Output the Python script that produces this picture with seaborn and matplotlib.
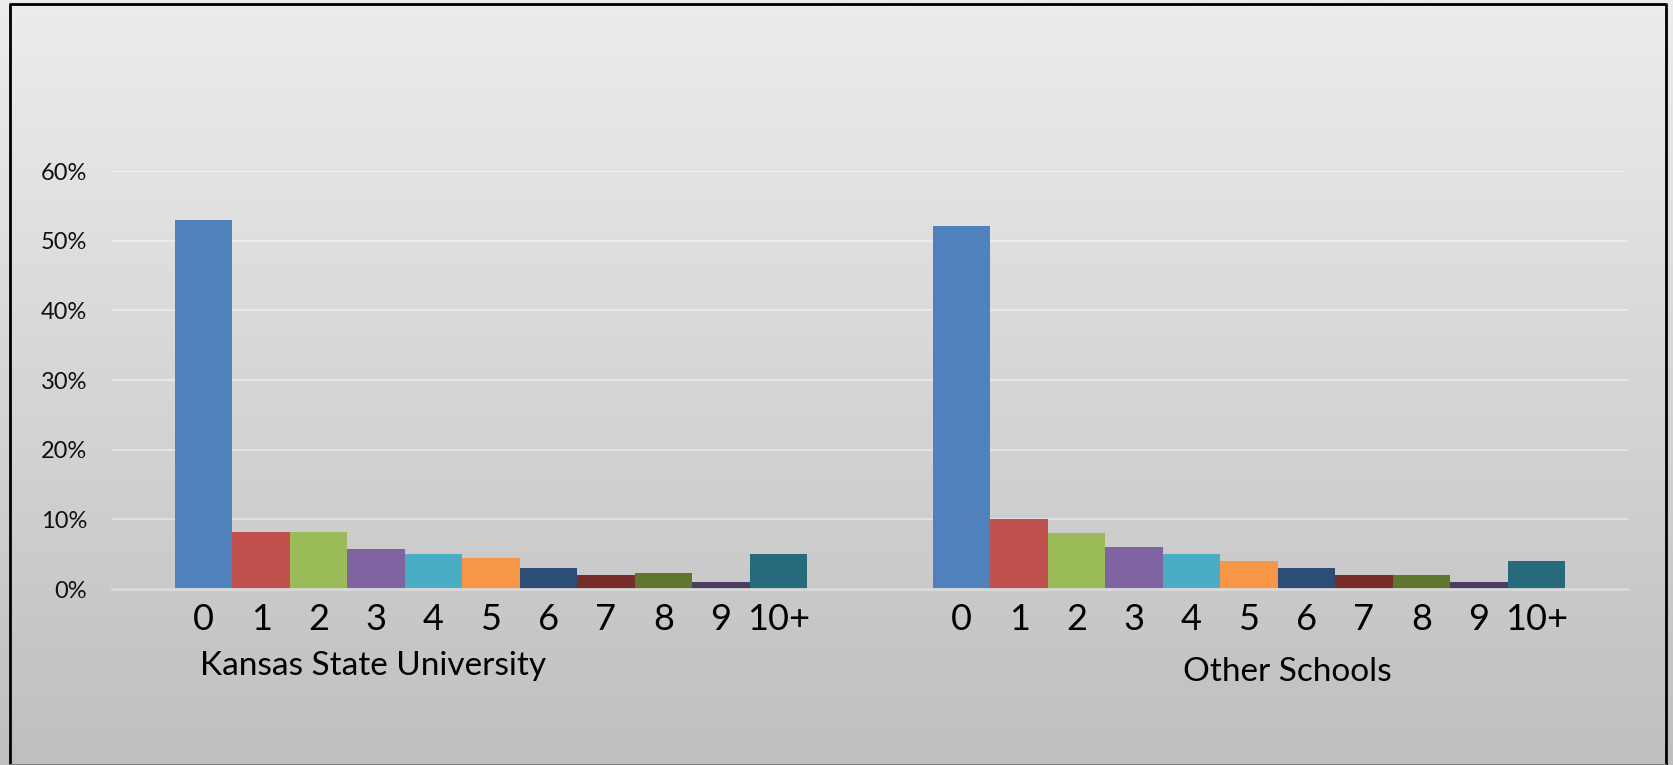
import pandas as pd
import seaborn as sns
import matplotlib.pyplot as plt
import numpy as np
from matplotlib.colors import LinearSegmentedColormap
from matplotlib.ticker import PercentFormatter
import matplotlib.transforms as mtransforms

# Data (share of respondents by number)
schools = ['Kansas State University', 'Other Schools']
counts = ['0', '1', '2', '3', '4', '5', '6', '7', '8', '9', '10+']
ksu = [0.530, 0.082, 0.082, 0.058, 0.050, 0.044, 0.030, 0.020, 0.023, 0.010, 0.050]
other = [0.521, 0.100, 0.080, 0.060, 0.050, 0.040, 0.030, 0.020, 0.020, 0.010, 0.040]

# Excel 2010 style palette
colors = ['#4F81BD', '#C0504D', '#9BBB59', '#8064A2', '#4BACC6', '#F79646',
          '#2C4D75', '#772C2A', '#5F7530', '#4D3B62', '#276A7C']

df = pd.DataFrame({
    'school': np.repeat(schools, len(counts)),
    'children': counts * 2,
    'share': ksu + other,
})

sns.set_style('white')
plt.rcParams['font.family'] = ['Lato', 'DejaVu Sans']

W, H = 1674, 765
fig = plt.figure(figsize=(W / 100, H / 100), dpi=100)

# gradient background over the whole chart
bg = fig.add_axes([0, 0, 1, 1], zorder=-10)
cmap = LinearSegmentedColormap.from_list('bg', ['#bfbfbf', '#ededed'])
bg.imshow(np.linspace(0, 1, 256).reshape(-1, 1)[::-1], aspect='auto', cmap=cmap,
          extent=[0, 1, 0, 1])
bg.set_axis_off()

ax = fig.add_axes([112 / W, 1 - 589 / H, (1628 - 112) / W, (589 - 171) / H])
ax.patch.set_alpha(0)

sns.barplot(data=df, x='school', y='share', hue='children', hue_order=counts,
            palette=colors, width=0.834, saturation=1, linewidth=0,
            legend=False, ax=ax)

ax.set_xlim(-0.5, 1.5)
ax.set_ylim(0, 0.6)
ax.set_yticks(np.arange(0, 0.61, 0.1))
ax.yaxis.set_major_formatter(PercentFormatter(1.0, decimals=0))
ax.tick_params(axis='y', length=0, pad=18, labelsize=17, labelcolor='#111111')
ax.set_xticks([-0.5, 0.5, 1.5], labels=['', '', ''])
ax.tick_params(axis='x', length=8, width=2, color='#d9d9d9', direction='out')
ax.set_xlabel('')
ax.set_ylabel('')
ax.yaxis.grid(True, color='white', alpha=0.4, linewidth=1.5)
ax.set_axisbelow(True)
for side in ['top', 'right', 'left']:
    ax.spines[side].set_visible(False)
ax.spines['bottom'].set_color('#d9d9d9')
ax.spines['bottom'].set_linewidth(2)

# category labels under each bar
trans = mtransforms.blended_transform_factory(ax.transData, fig.transFigure)
for cont, lab in zip(ax.containers, counts):
    for bar in cont:
        xc = bar.get_x() + bar.get_width() / 2
        ax.text(xc, 1 - 619 / H, lab, transform=trans, ha='center', va='center',
                fontsize=26, color='#000000')

# group labels
ax.text(0 - 0.156, 1 - 675 / H, schools[0], transform=trans, ha='center',
        va='baseline', fontsize=24, color='#000000')
ax.text(1 + 0.051, 1 - 681 / H, schools[1], transform=trans, ha='center',
        va='baseline', fontsize=24, color='#000000')

# chart border
bx0, bx1, by = 9.5 / W, 1666.5 / W, 1 - 4 / H
fig.add_artist(plt.Line2D([bx0, bx0, bx1, bx1], [0, by, by, 0],
                          color='black', linewidth=2, transform=fig.transFigure))
fig.add_artist(plt.Line2D([bx0, bx1], [0.5 / H, 0.5 / H], color='#808080',
                          linewidth=1.5, transform=fig.transFigure))

fig.savefig('out.png', dpi=100)
